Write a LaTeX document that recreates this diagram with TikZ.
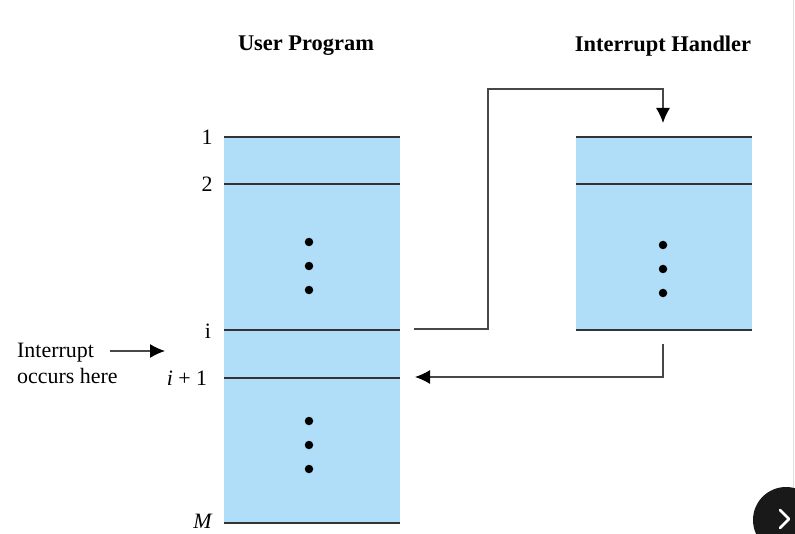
\documentclass[tikz,border=0pt]{standalone}
\usepackage{fontspec}
\setmainfont{Liberation Serif}
\usepackage{tikz}
\usetikzlibrary{arrows.meta, positioning}
\definecolor{memblue}{HTML}{B0DDF8}
\definecolor{lineclr}{HTML}{333333}

\begin{document}
\begin{tikzpicture}[x=1bp, y=-1bp]
    % Setup the styles
        \tikzset{row line/.style={draw=lineclr, line width=1.8bp},
                 flow line/.style={draw=lineclr!90, line width=1.3bp,
                                   -{Latex[length=15bp, width=14bp, black]}},
                 row label/.style={font=\fontsize{22}{26}\selectfont, inner sep=0pt},
                 title/.style={font=\fontsize{22.5}{26}\selectfont\bfseries},
                 dot/.style={fill=black, circle, inner sep=0pt, minimum size=8.5bp}}
        \useasboundingbox (0,0) rectangle (795,534);
        % Draw the titles
        \node[title] (prog title) at (306,46) {User Program};
        \node[title] (hand title) at (663,46) {Interrupt Handler};
        % Draw the memory blocks
        \fill[memblue] (224,137) rectangle (400,523);
        \fill[memblue] (576,137) rectangle (752,330);
        \foreach \y in {137,184,330,378,523}
            \draw[row line] (224,\y) -- (400,\y);
        \foreach \y in {137,184,330}
            \draw[row line] (576,\y) -- (752,\y);
        % Draw the dots
        \foreach \y/\n in {242/a,266/b,290/c}
            \node[dot] (pdot\n) at (309,\y) {};
        \foreach \y/\n in {421/a,445/b,469/c}
            \node[dot] (qdot\n) at (309,\y) {};
        \foreach \y/\n in {245/a,269/b,293/c}
            \node[dot] (hdot\n) at (663,\y) {};
        % Draw the row labels
        \node[row label] (one)   at (207,137) {1};
        \node[row label] (two)   at (207,184) {2};
        \node[row label] (iline) at (208,331) {i};
        \node[row label] (inext) at (187,378) {\textit{i} + 1};
        \node[row label] (mline) at (203,521) {\textit{M}};
        \node[row label, anchor=west, align=left] (intr) at (17,363)
            {Interrupt\\occurs here};
        % Connect with arrows
        \coordinate (intr tail) at (110,351);
        \coordinate (intr head) at (165,351);
        \coordinate (prog out)  at (414,329);
        \coordinate (hand in)   at (663,123);
        \coordinate (hand out)  at (663,344);
        \coordinate (prog in)   at (415,377);
        \draw[flow line] (intr tail) -- (intr head);
        \draw[flow line] (prog out) -| (488,89) -| (hand in);
        \draw[flow line] (hand out) |- (prog in);
        % Page frame and button
        \draw[gray!25, line width=1bp] (793.5,0) -- (793.5,534);
        \fill[black!90] (786,520) circle (33);
        \draw[white, line width=2.5bp, line cap=round, line join=round]
            (780,510) -- (789,519) -- (780,528);
\end{tikzpicture}
\end{document}
